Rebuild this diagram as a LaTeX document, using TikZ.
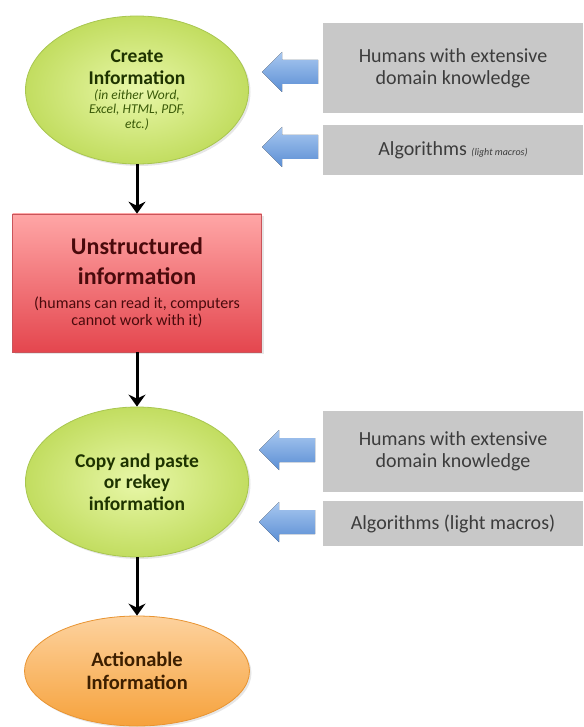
\documentclass[tikz,border=0pt]{standalone}
\usepackage{fontspec}
\setmainfont{Carlito}
\usetikzlibrary{shapes.geometric, arrows.meta, shadows}

\definecolor{stagelight}{HTML}{E8F7A8}
\definecolor{stagedark}{HTML}{C2DD60}
\definecolor{stageedge}{HTML}{A8C650}
\definecolor{stagetext}{HTML}{1E3300}
\definecolor{italtext}{HTML}{3A5A08}
\definecolor{redtop}{HTML}{FFA6A6}
\definecolor{redbottom}{HTML}{E4464E}
\definecolor{rededge}{HTML}{C9545A}
\definecolor{redtext}{HTML}{4A0A0C}
\definecolor{orangetop}{HTML}{FDD29E}
\definecolor{orangebottom}{HTML}{F6A23C}
\definecolor{orangeedge}{HTML}{E89432}
\definecolor{orangetext}{HTML}{3D1F00}
\definecolor{boxgray}{HTML}{C8C8C8}
\definecolor{boxtext}{HTML}{3C3C3C}
\definecolor{arrowlight}{HTML}{A9C8F0}
\definecolor{arrowdark}{HTML}{5A8ED4}

\newcommand{\smallit}{\fontsize{13.5}{14}\selectfont\mdseries\itshape\color{italtext}}
\newcommand{\smallred}{\fontsize{16}{17}\selectfont\mdseries}

\tikzset{
  stage/.style={ellipse, inner sep=0pt, draw=stageedge, line width=0.8pt,
    inner color=stagelight, outer color=stagedark, text=stagetext, align=center,
    drop shadow={opacity=0.2, shadow xshift=2pt, shadow yshift=-2pt},
    font=\fontsize{19.5}{21.5}\selectfont\bfseries},
  source/.style={rectangle, inner sep=0pt, fill=boxgray, text=boxtext, align=center,
    minimum width=260pt, font=\fontsize{20}{22}\selectfont},
  flow/.style={-{Stealth[length=12pt, width=17pt, inset=4pt]}, line width=3pt},
}

\begin{document}
\begin{tikzpicture}[x=1pt, y=-1pt]
\useasboundingbox (0,0) rectangle (583,727);

% main column
\node[stage, minimum width=223pt, minimum height=148pt] (create) at (137,90)
  {Create\\[1pt]Information\\[-7pt]\smallit (in either Word,\\[-7pt]\smallit Excel, HTML, PDF,\\[-7pt]\smallit etc.)};
\node[rectangle, inner sep=0pt, minimum width=249pt, minimum height=138pt, draw=rededge, line width=0.6pt,
  top color=redtop, bottom color=redbottom, text=redtext, align=center,
  drop shadow={opacity=0.2, shadow xshift=2pt, shadow yshift=-2pt},
  font=\fontsize{24}{30}\selectfont\bfseries] (unstructured) at (137,283)
  {Unstructured\\information\\[-6pt]\smallred (humans can read it, computers\\[-13pt]\smallred cannot work with it)};
\node[stage, minimum width=223pt, minimum height=150pt] (copy) at (137,482)
  {Copy and paste\\or rekey\\information};
\node[ellipse, inner sep=0pt, minimum width=225pt, minimum height=110pt, draw=orangeedge, line width=0.8pt,
  top color=orangetop, bottom color=orangebottom, text=orangetext, align=center,
  drop shadow={opacity=0.2, shadow xshift=2pt, shadow yshift=-2pt},
  font=\fontsize{20.5}{23}\selectfont\bfseries] (actionable) at (137,671)
  {Actionable\\Information};

\draw[flow] (create) -- (unstructured);
\draw[flow] (unstructured) -- (copy);
\draw[flow] (copy) -- (actionable);

% inputs on the right
\node[source, minimum height=90pt] (humans1) at (453,68) {Humans with extensive\\domain knowledge};
\node[source, minimum height=50pt] (algo1) at (453,150) {Algorithms {\fontsize{10}{12}\selectfont\itshape (light macros)}};
\node[source, minimum height=81pt] (humans2) at (453,451.5) {Humans with extensive\\domain knowledge};
\node[source, minimum height=45pt] (algo2) at (453,523.5) {Algorithms (light macros)};

\foreach \ax/\ay in {262/72, 262/147, 259/450, 259/522}
  \fill[top color=arrowlight, bottom color=arrowdark]
    (\ax,\ay) -- ++(20,-20) -- ++(0,8) -- ++(36,0) -- ++(0,24) -- ++(-36,0) -- ++(0,8) -- cycle;
\end{tikzpicture}
\end{document}
